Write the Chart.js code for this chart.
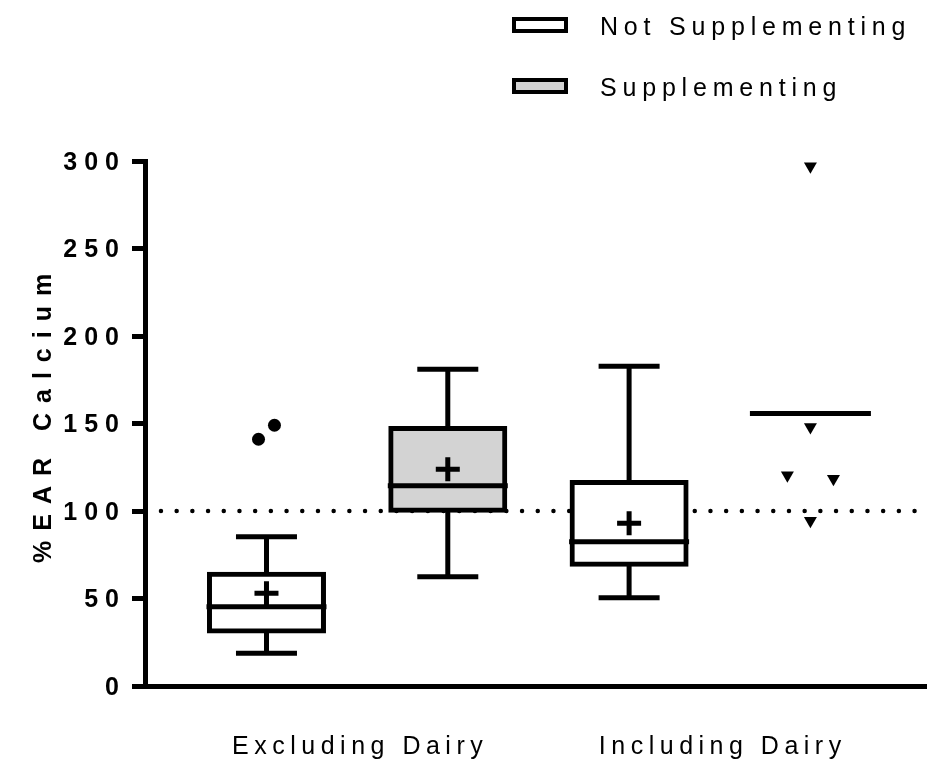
<!DOCTYPE html>
<html>
<head>
<meta charset="utf-8">
<title>%EAR Calcium</title>
<script src="https://cdn.jsdelivr.net/npm/chart.js@4/dist/chart.umd.min.js"></script>
<style>
  html, body { margin: 0; padding: 0; background: #ffffff; }
  #wrap { width: 927px; height: 769px; }
  canvas { display: block; }
</style>
</head>
<body>
<div id="wrap"><canvas id="chart" width="927" height="769"></canvas></div>
<script>
// ---- data ----
const groups = ['Excluding Dairy', 'Including Dairy'];
const seriesNames = ['Not Supplementing', 'Supplementing'];
const yTickStep = 50;
const yMin = 0;
const yMax = 300;
const earReference = 100;

// Not Supplementing: box summary per group
const notSuppMin    = [18.7, 50.4];
const notSuppQ1     = [31.5, 69.6];
const notSuppMedian = [45.3, 82.5];
const notSuppQ3     = [63.9, 116.3];
const notSuppMax    = [85.3, 182.7];
const notSuppMean   = [53, 93];
const notSuppOutliers = [[141, 149], []];

// Supplementing: box summary where the group is large enough, raw values otherwise
const suppMin    = [62.5, null];
const suppQ1     = [100.5, null];
const suppMedian = [114.4, null];
const suppQ3     = [147.2, null];
const suppMax    = [181, null];
const suppMean   = [123.8, null];
const suppValues = [[], [297, 148, 120.5, 118.5, 94.5]];

// ---- look ----
const FONT = "'Liberation Sans', Arial, Helvetica, sans-serif";
const BLACK = '#000000';
const GREY = '#d3d3d3';
const X_MIN = 0.33;
const X_MAX = 4.643;

// each group holds two boxes side by side on the numeric x axis
const boxX = (g, s) => g * 2 + 1 + s;
const groupCenters = groups.map((_, g) => (boxX(g, 0) + boxX(g, 1)) / 2);

const series = [
  { min: notSuppMin, q1: notSuppQ1, med: notSuppMedian, q3: notSuppQ3, max: notSuppMax, mean: notSuppMean, pts: notSuppOutliers, fill: '#ffffff' },
  { min: suppMin, q1: suppQ1, med: suppMedian, q3: suppQ3, max: suppMax, mean: suppMean, pts: suppValues, fill: GREY }
];

const hasBox = (s, g) => s.q1[g] != null;

function collect(fn) {
  const out = [];
  series.forEach((s, si) => groups.forEach((_, g) => fn(s, si, g, out)));
  return out;
}

// values that sit close together are pushed apart sideways, in listed order
function spread(values, center, closeWithin, step) {
  const pts = values.map(v => ({ x: center, y: v }));
  const used = new Array(values.length).fill(false);
  for (let i = 0; i < values.length; i++) {
    if (used[i]) continue;
    const cluster = [i];
    for (let j = i + 1; j < values.length; j++) {
      if (!used[j] && Math.abs(values[j] - values[i]) < closeWithin) cluster.push(j);
    }
    cluster.forEach((k, n) => {
      used[k] = true;
      pts[k].x = center + (n - (cluster.length - 1) / 2) * step;
    });
  }
  return pts;
}

const mean = arr => arr.reduce((a, b) => a + b, 0) / arr.length;

const whiskers = collect((s, si, g, out) => { if (hasBox(s, g)) out.push({ x: boxX(g, si), y: [s.min[g], s.max[g]] }); });
const boxesFor = si => collect((s, k, g, out) => { if (k === si && hasBox(s, g)) out.push({ x: boxX(g, k), y: [s.q1[g], s.q3[g]] }); });
const caps = collect((s, si, g, out) => { if (hasBox(s, g)) { out.push({ x: boxX(g, si), y: s.min[g] }); out.push({ x: boxX(g, si), y: s.max[g] }); } });
const medians = collect((s, si, g, out) => { if (hasBox(s, g)) out.push({ x: boxX(g, si), y: s.med[g] }); });
const means = collect((s, si, g, out) => { if (hasBox(s, g)) out.push({ x: boxX(g, si), y: s.mean[g] }); });
const pointMeans = collect((s, si, g, out) => { if (!hasBox(s, g) && s.pts[g].length) out.push({ x: boxX(g, si), y: mean(s.pts[g]) }); });
const outlierDots = collect((s, si, g, out) => { if (hasBox(s, g)) out.push(...spread(s.pts[g], boxX(g, si), 10, 0.088)); });
const valueMarks = collect((s, si, g, out) => { if (!hasBox(s, g)) out.push(...spread(s.pts[g], boxX(g, si), 10, 0.254)); });

const pointSet = (label, data, style, radius, extra) => Object.assign({
  type: 'scatter', label, data,
  pointStyle: style, pointRadius: radius, pointHoverRadius: radius,
  pointBorderColor: BLACK, pointBackgroundColor: BLACK, pointBorderWidth: 5,
  showLine: false
}, extra || {});

const datasets = [
  {
    type: 'line', label: 'EAR', order: 10,
    data: [{ x: 0.418, y: earReference }, { x: X_MAX, y: earReference }],
    borderColor: BLACK, borderWidth: 4.5, borderDash: [0, 15.7], borderCapStyle: 'round',
    pointRadius: 0, tension: 0, fill: false
  },
  {
    type: 'bar', label: 'whiskers', order: 9, data: whiskers,
    backgroundColor: BLACK, borderWidth: 0, barThickness: 5, grouped: false, inflateAmount: 0
  },
  {
    type: 'bar', label: seriesNames[0], order: 8, data: boxesFor(0),
    backgroundColor: series[0].fill, borderColor: BLACK, borderWidth: 5, borderSkipped: false,
    barThickness: 114, inflateAmount: 2.5, grouped: false
  },
  {
    type: 'bar', label: seriesNames[1], order: 7, data: boxesFor(1),
    backgroundColor: series[1].fill, borderColor: BLACK, borderWidth: 5, borderSkipped: false,
    barThickness: 114, inflateAmount: 2.5, grouped: false
  },
  pointSet('caps', caps, 'line', 30.5, { order: 5 }),
  pointSet('medians', medians, 'line', 60, { order: 4 }),
  pointSet('means', means, 'cross', 12, { order: 3 }),
  pointSet('point means', pointMeans, 'line', 60.5, { order: 3 }),
  pointSet('outliers', outlierDots, 'circle', 6.5, { order: 2, pointBorderWidth: 0 }),
  pointSet('values', valueMarks, 'triangle', 7.5, { order: 1, pointBorderWidth: 0, pointRotation: 180 })
];

// tick text spacing: y labels are drawn before the datasets, x labels after them
const textSpacing = {
  id: 'textSpacing',
  beforeDraw(chart) { chart.ctx.letterSpacing = '7px'; },
  afterDatasetsDraw(chart) { chart.ctx.letterSpacing = '5.5px'; }
};

// y axis title and the two-row legend above the plot
const annotations = {
  id: 'annotations',
  afterDraw(chart) {
    const ctx = chart.ctx;
    ctx.save();
    ctx.fillStyle = BLACK;
    ctx.letterSpacing = '10px';
    ctx.font = `bold 25px ${FONT}`;
    ctx.textAlign = 'left';
    ctx.textBaseline = 'alphabetic';
    ctx.translate(51, 563);
    ctx.rotate(-Math.PI / 2);
    ctx.fillText('%EAR Calcium', 0, 0);
    ctx.restore();

    ctx.save();
    ctx.letterSpacing = '5.8px';
    ctx.font = `25px ${FONT}`;
    ctx.textAlign = 'left';
    ctx.textBaseline = 'alphabetic';
    seriesNames.forEach((name, i) => {
      const cy = 25 + i * 61;
      ctx.fillStyle = BLACK;
      ctx.fillRect(512, cy - 8, 56, 16);
      ctx.fillStyle = series[i].fill;
      ctx.fillRect(516, cy - 4, 48, 8);
      ctx.fillStyle = BLACK;
      ctx.fillText(name, 600, cy + 10);
    });
    ctx.restore();
  }
};

new Chart(document.getElementById('chart'), {
  type: 'bar',
  data: { datasets },
  plugins: [textSpacing, annotations],
  options: {
    responsive: false,
    animation: false,
    events: [],
    layout: { autoPadding: false, padding: { top: 161, left: 0, right: 0, bottom: 0 } },
    plugins: {
      legend: { display: false },
      tooltip: { enabled: false }
    },
    scales: {
      x: {
        type: 'linear', min: X_MIN, max: X_MAX, offset: false,
        afterFit: s => { s.height = 83; s.paddingLeft = 0; s.paddingRight = 0; },
        afterBuildTicks: s => { s.ticks = groupCenters.map(v => ({ value: v })); },
        ticks: {
          autoSkip: false, maxRotation: 0, minRotation: 0, padding: 46, labelOffset: 3, z: 1,
          color: BLACK, font: { family: FONT, size: 25 },
          callback: (v, i) => groups[i]
        },
        grid: { display: false, drawTicks: false },
        border: { display: true, width: 5, color: BLACK }
      },
      y: {
        min: yMin, max: yMax,
        afterFit: s => { s.width = 145; },
        ticks: {
          stepSize: yTickStep, padding: 6, labelOffset: 2,
          color: BLACK, font: { family: FONT, size: 25, weight: 'bold' }
        },
        grid: { drawOnChartArea: false, drawTicks: true, tickLength: 13, lineWidth: 5, color: BLACK },
        border: { display: true, width: 5, color: BLACK }
      }
    }
  }
});
</script>
</body>
</html>
